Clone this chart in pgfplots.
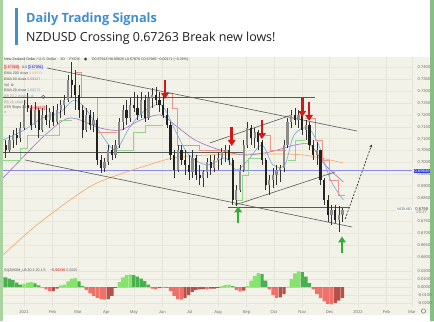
\documentclass[border=0pt]{standalone}
\usepackage{fontspec}
\setmainfont{Open Sans}
\newfontfamily\tf{Liberation Sans}
\newfontfamily\djv{DejaVu Sans}
\usepackage{pgfplots}
\usepackage{pgfplotstable}
\pgfplotsset{compat=1.18}
\usetikzlibrary{arrows.meta}
\definecolor{bgc}{HTML}{F3F2E8}
\definecolor{gridc}{HTML}{E6E5D9}
\definecolor{wickc}{HTML}{333333}
\definecolor{upc}{HTML}{8C8C8C}
\definecolor{dnc}{HTML}{222222}
\definecolor{emaO}{HTML}{F0A860}
\definecolor{emaP}{HTML}{A070C0}
\definecolor{emaB}{HTML}{74A9DA}
\definecolor{atrc}{HTML}{E8958C}
\definecolor{stepg}{HTML}{92D48E}
\definecolor{trend}{HTML}{595959}
\definecolor{hblue}{HTML}{8A8AF0}
\definecolor{boxblue}{HTML}{2D3FDC}
\definecolor{oscg}{HTML}{86E46E}
\definecolor{oscgd}{HTML}{48B04C}
\definecolor{oscr}{HTML}{F0706A}
\definecolor{oscrd}{HTML}{B5504A}
\definecolor{titleblue}{HTML}{3F8FCF}
\definecolor{lgreen}{HTML}{A9D3A0}
\definecolor{rgreen}{HTML}{86BF84}
\definecolor{tkc}{HTML}{707070}
\newcommand{\tkf}{\tf\fontsize{4.2}{5}\selectfont}
\newcommand{\lgf}{\tf\fontsize{3.6}{4.2}\selectfont}

\pgfplotstableread{
d o h l c
-20 0.7073 0.7094 0.7018 0.7052
-16 0.7052 0.7115 0.7044 0.7094
-12 0.7094 0.7136 0.7060 0.7115
-8 0.7115 0.7145 0.7073 0.7103
-4 0.7103 0.7170 0.7086 0.7145
0 0.7145 0.7263 0.7136 0.7242
4 0.7242 0.7292 0.7212 0.7229
8 0.7229 0.7242 0.7136 0.7157
12 0.7157 0.7255 0.7145 0.7221
16 0.7221 0.7229 0.7103 0.7136
20 0.7136 0.7229 0.7128 0.7200
24 0.7200 0.7242 0.7157 0.7178
28 0.7178 0.7229 0.7145 0.7212
32 0.7212 0.7238 0.7153 0.7170
36 0.7170 0.7246 0.7162 0.7221
40 0.7221 0.7263 0.7187 0.7242
44 0.7242 0.7284 0.7200 0.7263
48 0.7263 0.7368 0.7255 0.7347
52 0.7347 0.7423 0.7271 0.7326
56 0.7326 0.7390 0.7221 0.7284
60 0.7284 0.7326 0.7187 0.7221
64 0.7221 0.7242 0.7103 0.7136
68 0.7136 0.7229 0.7128 0.7200
72 0.7200 0.7221 0.7136 0.7157
76 0.7157 0.7212 0.7128 0.7178
80 0.7178 0.7187 0.6989 0.7010
84 0.7010 0.7031 0.6955 0.6976
88 0.6976 0.7018 0.6959 0.7001
92 0.7001 0.7073 0.6989 0.7052
96 0.7052 0.7073 0.7010 0.7031
100 0.7031 0.7094 0.7018 0.7073
104 0.7073 0.7187 0.7060 0.7170
108 0.7170 0.7242 0.7136 0.7221
112 0.7221 0.7263 0.7157 0.7187
116 0.7187 0.7271 0.7170 0.7242
120 0.7242 0.7297 0.7212 0.7229
124 0.7229 0.7284 0.7178 0.7200
128 0.7200 0.7297 0.7187 0.7263
132 0.7263 0.7284 0.7170 0.7187
136 0.7187 0.7297 0.7178 0.7271
140 0.7271 0.7313 0.7229 0.7284
144 0.7284 0.7318 0.7242 0.7263
148 0.7263 0.7297 0.7212 0.7242
152 0.7242 0.7284 0.7187 0.7200
156 0.7200 0.7229 0.7145 0.7157
160 0.7157 0.7170 0.7010 0.7031
164 0.7031 0.7052 0.6934 0.6967
168 0.6967 0.7073 0.6959 0.7052
172 0.7052 0.7073 0.6989 0.7010
176 0.7010 0.7052 0.6946 0.6989
180 0.6989 0.7031 0.6925 0.6959
184 0.6959 0.7052 0.6934 0.7018
188 0.7018 0.7031 0.6925 0.6946
192 0.6946 0.6989 0.6904 0.6934
196 0.6934 0.6967 0.6896 0.6959
200 0.6959 0.7018 0.6934 0.7001
204 0.7001 0.7031 0.6946 0.6976
208 0.6976 0.7031 0.6959 0.7010
212 0.7010 0.7044 0.6967 0.7018
216 0.7018 0.7060 0.6989 0.7044
220 0.7044 0.7073 0.7001 0.7052
224 0.7052 0.7073 0.6989 0.7010
228 0.7010 0.7018 0.6820 0.6841
232 0.6841 0.6904 0.6816 0.6883
236 0.6883 0.6989 0.6875 0.6967
240 0.6967 0.7094 0.6959 0.7073
244 0.7073 0.7170 0.7060 0.7145
248 0.7145 0.7157 0.7073 0.7103
252 0.7103 0.7145 0.7060 0.7128
256 0.7128 0.7136 0.7052 0.7086
260 0.7086 0.7094 0.6989 0.7010
264 0.7010 0.7018 0.6883 0.6904
268 0.6904 0.6946 0.6862 0.6925
272 0.6925 0.6976 0.6892 0.6946
276 0.6946 0.6989 0.6904 0.6967
280 0.6967 0.6989 0.6917 0.6976
284 0.6976 0.7094 0.6959 0.7073
288 0.7073 0.7187 0.7060 0.7170
292 0.7170 0.7221 0.7145 0.7200
296 0.7200 0.7229 0.7157 0.7178
300 0.7178 0.7221 0.7145 0.7200
304 0.7200 0.7212 0.7115 0.7136
308 0.7136 0.7178 0.7094 0.7157
312 0.7157 0.7170 0.7052 0.7073
316 0.7073 0.7094 0.7010 0.7031
320 0.7031 0.7086 0.6989 0.7052
324 0.7052 0.7052 0.6904 0.6925
328 0.6925 0.6934 0.6820 0.6841
332 0.6841 0.6862 0.6748 0.6778
336 0.6778 0.6820 0.6735 0.6799
340 0.6799 0.6820 0.6744 0.6757
344 0.6757 0.6816 0.6706 0.6778
348 0.6778 0.6807 0.6748 0.6799
}\candles

\pgfplotstableread{
d v s
-24 0.0125 0
-20 0.0120 0
-16 0.0105 0
-12 0.0085 0
-8 0.0055 0
-4 0.0030 0
0 0.0040 1
4 0.0055 1
8 0.0060 1
12 0.0045 0
16 0.0020 0
20 -0.0005 1
24 -0.0030 1
28 -0.0050 1
32 -0.0050 0
36 -0.0020 0
40 0.0020 1
44 0.0030 1
48 0.0070 1
52 0.0105 1
56 0.0110 1
60 0.0070 0
64 0.0010 0
68 -0.0040 1
72 -0.0080 1
76 -0.0110 1
80 -0.0135 1
84 -0.0150 1
88 -0.0158 1
92 -0.0150 0
96 -0.0110 0
100 -0.0010 0
104 0.0060 1
108 0.0120 1
112 0.0150 1
116 0.0155 1
120 0.0150 0
124 0.0130 0
128 0.0105 0
132 0.0075 0
136 0.0030 0
140 -0.0020 1
144 -0.0030 1
148 -0.0015 0
152 -0.0005 0
156 -0.0010 1
160 -0.0050 1
164 -0.0110 1
168 -0.0150 1
172 -0.0158 1
176 -0.0140 0
180 -0.0100 0
184 -0.0060 0
188 -0.0035 0
192 -0.0030 0
196 -0.0025 0
200 -0.0030 1
204 -0.0020 0
208 -0.0020 0
212 -0.0010 0
216 0.0010 1
220 0.0025 1
224 0.0030 1
228 0.0010 0
232 -0.0035 1
236 -0.0054 1
240 -0.0045 0
244 0.0010 1
248 0.0080 1
252 0.0140 1
256 0.0175 1
260 0.0160 0
264 0.0080 0
268 -0.0030 1
272 -0.0100 1
276 -0.0135 1
280 -0.0130 0
284 -0.0090 0
288 0.0002 1
292 0.0100 1
296 0.0170 1
300 0.0196 1
304 0.0185 0
308 0.0130 0
312 0.0050 0
316 -0.0030 1
320 -0.0090 1
324 -0.0140 1
328 -0.0180 1
332 -0.0210 1
336 -0.0217 1
340 -0.0200 0
344 -0.0170 0
348 -0.0140 0
}\osc

\begin{document}
\begin{tikzpicture}[x=1bp,y=1bp]
\useasboundingbox (0,0) rectangle (434,321);
\fill[white] (0,0) rectangle (434,321);
\fill[bgc] (3,6) rectangle (430,264);
\fill[lgreen] (0,0) rectangle (2.5,321);
\fill[rgreen] (430,0) rectangle (434,321);
\fill[titleblue] (15,276) rectangle (17.5,313);
\node[anchor=base west, inner sep=0, text=titleblue, font=\fontsize{12.8}{14}\selectfont\bfseries] at (26,299) {Daily Trading Signals};
\node[anchor=base west, inner sep=0, text=black!88, font=\fontsize{12.5}{14}\selectfont] at (26,280) {NZDUSD Crossing 0.67263 Break new lows!};

% price panel
\begin{axis}[
  at={(3bp,55bp)}, anchor=south west,
  width=409bp, height=209bp, scale only axis,
  xmin=-23, xmax=424, ymin=0.65624, ymax=0.74444,
  axis line style={draw=none}, major tick length=0pt,
  xtick={0,31,59,90,120,151,181,212,243,273,304,334,365,396,424},
  xticklabels={},
  ytick={0.66,0.665,0.67,0.675,0.685,0.69,0.695,0.70,0.705,0.71,0.715,0.72,0.725,0.73,0.735,0.74},
  extra y ticks={0.68}, extra y tick labels={},
  scaled y ticks=false,
  yticklabel pos=right,
  yticklabel style={font=\tkf, text=tkc, xshift=2bp, /pgf/number format/fixed, /pgf/number format/fixed zerofill, /pgf/number format/precision=4, /pgf/number format/assume math mode=true},
  grid=major, grid style={gridc, line width=0.4bp},
]
% horizontal blue level
\addplot[hblue, line width=0.7bp] coordinates {(-23,0.69646) (424,0.69646)};
% moving averages
\addplot[emaO, line width=0.6bp, smooth] coordinates {(-23,0.6609) (10,0.6723) (47,0.6832) (75,0.6904) (102,0.6946) (132,0.6984) (163,0.7018) (200,0.7031) (255,0.7035) (305,0.7031) (349,0.6997)};
\addplot[emaP, line width=0.6bp, smooth] coordinates {(-23,0.6934) (-4,0.7010) (23,0.7115) (50,0.7187) (83,0.7145) (105,0.7136) (127,0.7178) (149,0.7200) (165,0.7157) (187,0.7094) (214,0.7052) (241,0.7031) (269,0.7044) (296,0.7073) (313,0.7073) (329,0.6989) (349,0.6917)};
\addplot[emaB, line width=0.6bp, smooth] coordinates {(-23,0.7094) (0,0.7136) (20,0.7187) (40,0.7212) (55,0.7263) (70,0.7212) (85,0.7115) (100,0.7052) (115,0.7145) (130,0.7212) (150,0.7242) (165,0.7136) (180,0.7031) (200,0.6989) (220,0.7018) (232,0.6967) (245,0.7010) (260,0.7073) (272,0.6989) (285,0.6989) (295,0.7115) (310,0.7145) (322,0.7073) (335,0.6925) (349,0.6841)};
% ATR stop steps
\addplot[atrc, line width=0.6bp, const plot, unbounded coords=jump] coordinates {(56,0.7381) (63,0.7276) (80,0.7128) (102,0.7128) (102,nan) (154,0.7292) (162,0.7229) (168,0.7073) (192,0.7052) (223,0.7052) (223,nan) (261,0.7115) (269,0.7052) (286,0.7052) (286,nan) (307,0.7187) (318,0.7094) (326,0.7010) (334,0.6925) (343,0.6862) (351,0.6862)};
\addplot[stepg, line width=0.6bp, const plot, unbounded coords=jump] coordinates {(-23,0.7010) (-4,0.7060) (4,0.7115) (39,0.7178) (52,0.7178) (52,nan) (102,0.7052) (119,0.7128) (132,0.7157) (152,0.7157) (152,nan) (233,0.6841) (238,0.6946) (245,0.7018) (260,0.7018) (260,nan) (288,0.7010) (296,0.7094) (307,0.7094)};
% trend lines
\addplot[trend, line width=0.6bp] coordinates {(25.1,0.7398) (363.9,0.7132)};
\addplot[trend, line width=0.6bp] coordinates {(1.1,0.7010) (358.5,0.6727)};
\addplot[trend, line width=0.6bp] coordinates {(-23,0.7276) (318,0.7276)};
\addplot[trend, line width=0.6bp] coordinates {(-23,0.7043) (241,0.7043)};
\addplot[trend, line width=0.6bp] coordinates {(203.3,0.7082) (292.9,0.7200)};
\addplot[trend, line width=0.6bp] coordinates {(230.6,0.6820) (339.9,0.6959)};
\addplot[trend, line width=0.6bp] coordinates {(223,0.6809) (356,0.6809)};
\addplot[trend, only marks, mark=o, mark size=1.6bp, mark options={line width=0.6bp}] coordinates {(21,0.7276)};
% candles: wicks and bodies
\addplot[draw=none, mark=none, error bars/.cd, y dir=both, y explicit, error mark=none, error bar style={draw=wickc, line width=0.5bp}]
  table[x=d, y expr={(\thisrow{h}+\thisrow{l})/2}, y error expr={(\thisrow{h}-\thisrow{l})/2}] {\candles};
\addplot[draw=none, mark=none, error bars/.cd, y dir=both, y explicit, error mark=none, error bar style={draw=upc, line width=2.2bp}]
  table[x=d, y expr={(\thisrow{o}+\thisrow{c})/2}, y error expr={max(\thisrow{c}-\thisrow{o},0)/2}] {\candles};
\addplot[draw=none, mark=none, error bars/.cd, y dir=both, y explicit, error mark=none, error bar style={draw=dnc, line width=2.2bp}]
  table[x=d, y expr={(\thisrow{o}+\thisrow{c})/2}, y error expr={max(\thisrow{o}-\thisrow{c},0)/2}] {\candles};
% signal arrows
\addplot[red!80!black!90, line width=2.6bp, -{Triangle[width=7.5bp,length=6bp]}, quiver={u=0,v=-0.0080}] coordinates {(154,0.7347) (227,0.7149) (260,0.7178) (304,0.7271) (311.5,0.7255)};
\addplot[green!60!black!80, line width=2.6bp, -{Triangle[width=7.5bp,length=6bp]}, quiver={u=0,v=0.0070}] coordinates {(234,0.6744) (347.5,0.6617)};
% projection
\addplot[black!80, line width=0.7bp, dash pattern=on 2bp off 1.5bp, -{Stealth[length=3bp,width=3bp]}] coordinates {(351,0.6761) (380,0.7075)};
\end{axis}

% oscillator panel
\begin{axis}[
  at={(3bp,14bp)}, anchor=south west,
  width=409bp, height=41bp, scale only axis,
  xmin=-23, xmax=424, ymin=-0.025, ymax=0.02625,
  axis line style={draw=none}, major tick length=0pt,
  xtick={0,31,59,90,120,151,181,212,243,273,304,334,365,396,424},
  xticklabels={2021,Feb,Mar,Apr,May,Jun,Jul,Aug,Sep,Oct,Nov,Dec,2022,Feb,Mar},
  xticklabel style={font=\tkf, text=tkc},
  ytick={-0.02,-0.01,0,0.01,0.02},
  scaled y ticks=false,
  yticklabel pos=right,
  yticklabel style={font=\tkf, text=tkc, xshift=2bp, /pgf/number format/fixed, /pgf/number format/fixed zerofill, /pgf/number format/precision=4, /pgf/number format/assume math mode=true},
  grid=major, grid style={gridc, line width=0.4bp},
]
\addplot[ybar, bar width=3.6, fill=oscg, draw=none, restrict y to domain=0:1] table[x=d, y expr={\thisrow{v}*\thisrow{s}}] {\osc};
\addplot[ybar, bar width=3.6, fill=oscgd, draw=none, restrict y to domain=0:1] table[x=d, y expr={\thisrow{v}*(1-\thisrow{s})}] {\osc};
\addplot[ybar, bar width=3.6, fill=oscr, draw=none, restrict y to domain=-1:0] table[x=d, y expr={\thisrow{v}*\thisrow{s}}] {\osc};
\addplot[ybar, bar width=3.6, fill=oscrd, draw=none, restrict y to domain=-1:0] table[x=d, y expr={\thisrow{v}*(1-\thisrow{s})}] {\osc};
\end{axis}

% chart header texts
\node[anchor=west, inner sep=0, text=black!75, font=\lgf] at (4,261) {New Zealand Dollar / U.S. Dollar \,·\, 1D \,·\, FXCM \quad {\djv ●} \quad O0.67913 H0.68026 L0.67870 C0.67986 −0.00171 (−0.25\%)};
\node[anchor=west, inner sep=0.7bp, draw=red!70, rounded corners=0.8bp, text=red!80!black, font=\lgf] at (4,254) {0.67988};
\node[anchor=west, inner sep=0, text=black!70, font=\lgf] at (22,254) {0.0};
\node[anchor=west, inner sep=0.7bp, draw=blue!60, rounded corners=0.8bp, text=blue!70!black, font=\lgf] at (28,254) {0.67991};
\node[anchor=west, inner sep=0, text=black!70, font=\lgf] at (4,248) {EMA 200 close \textcolor{emaO}{0.69513}};
\node[anchor=west, inner sep=0, text=black!70, font=\lgf] at (4,242) {EMA 50 close \textcolor{emaP}{0.69327}};
\node[anchor=west, inner sep=0, text=black!70, font=\lgf] at (4,236) {Vol \,{\djv ⊚}};
\node[anchor=west, inner sep=0, text=black!70, font=\lgf] at (4,231) {EMA 20 close \textcolor{emaB}{0.68572}};
\node[anchor=west, inner sep=0, text=black!40, font=\lgf] at (4,225) {BB 20 2 close 0 \,{\djv ⊚}};
\node[anchor=west, inner sep=0, text=black!40, font=\lgf] at (4,219) {BB 20 close 2};
\node[anchor=west, inner sep=0, text=black!70, font=\lgf] at (4,213) {ATR Stops 20 2};
\node[anchor=west, inner sep=0.7bp, draw=red!70, rounded corners=0.8bp, text=red!80!black, font=\lgf] at (30,213) {0.68852};
\node[anchor=west, inner sep=0, text=black!70, font=\lgf] at (4,208) {≈};
\node[anchor=west, inner sep=0, text=black!70, font=\lgf] at (4,50) {SQZMOM\_LB 20 2 20 1.5 \quad \textcolor{red!70!black}{−0.00236} \textcolor{black!60}{0.0000}};
% right price labels
\node[anchor=west, inner sep=0.8bp, minimum width=16bp, fill=boxblue, text=white, font=\tkf] at (413.5,150) {0.69646};
\node[anchor=east, inner sep=0.8bp, fill=white, text=black!70, font=\lgf] at (413,112) {NZDUSD};
\node[anchor=west, inner sep=0.6bp, fill=bgc, text=black!70, font=\tkf, align=center] at (414.5,110.5) {0.6798\\[-1.5bp]\textcolor{black!50}{20:27}};
\draw[black!55, line width=0.5bp] (423.5,10) circle (2.2);
\end{tikzpicture}
\end{document}
